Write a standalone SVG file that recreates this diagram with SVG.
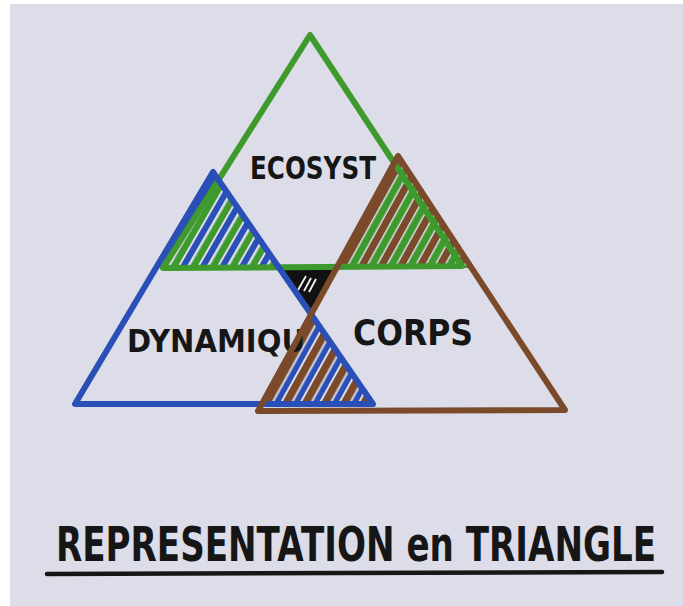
<svg xmlns="http://www.w3.org/2000/svg" width="683" height="606" viewBox="0 0 683 606">
<style>
  .edge { fill: none; stroke-width: 6; stroke-linejoin: round; stroke-linecap: round; }
  .green { stroke: #3e9a2c; }
  .blue { stroke: #2a4fb6; }
  .brown { stroke: #7a4a2b; }
  .lbl { font-family: "DejaVu Sans", "Liberation Sans", sans-serif; font-weight: bold; fill: #161616; }
</style>
<defs>
  <pattern id="hGreenBlue" patternUnits="userSpaceOnUse" width="17" height="17" patternTransform="rotate(30)">
    <rect x="0" y="0" width="6" height="17" fill="#2a4fb6"/>
    <rect x="8.5" y="0" width="6.5" height="17" fill="#3e9a2c"/>
  </pattern>
  <pattern id="hGreenBrown" patternUnits="userSpaceOnUse" width="17" height="17" patternTransform="rotate(29)">
    <rect x="0" y="0" width="7" height="17" fill="#7a4a2b"/>
    <rect x="8.5" y="0" width="7" height="17" fill="#3e9a2c"/>
  </pattern>
  <pattern id="hBlueBrown" patternUnits="userSpaceOnUse" width="17" height="17" patternTransform="rotate(29)">
    <rect x="0" y="0" width="7.5" height="17" fill="#7a4a2b"/>
    <rect x="9.5" y="0" width="5.5" height="17" fill="#2a4fb6"/>
  </pattern>
</defs>

<rect x="0" y="0" width="683" height="606" fill="#ffffff"/>
<rect x="10" y="4" width="673" height="602" fill="#dcdde9"/>

<!-- overlap hatchings -->
<g id="overlaps">
  <polygon id="ecosyst-dynamique" points="213,172 156,268 279,268" fill="url(#hGreenBlue)"/>
  <polygon id="ecosyst-corps" points="398,156 336,268 471,268" fill="url(#hGreenBrown)"/>
  <polygon id="dynamique-corps" points="311,313 373,404 261,404" fill="url(#hBlueBrown)"/>
  <g id="centre">
    <polygon points="280,268 336,268 311,313" fill="#111111"/>
    <line x1="298" y1="290" x2="306" y2="276" stroke="#f2f2f2" stroke-width="1.8"/>
    <line x1="304" y1="291" x2="311" y2="278" stroke="#f2f2f2" stroke-width="1.8"/>
    <line x1="309" y1="292" x2="316" y2="279" stroke="#f2f2f2" stroke-width="1.8"/>
  </g>
</g>

<g id="ecosyst">
  <polygon class="edge green" points="310,35 163,268 462,266"/>
  <text class="lbl" x="250" y="179" font-size="32" textLength="126" lengthAdjust="spacingAndGlyphs">ECOSYST</text>
</g>

<g id="dynamique">
  <polygon class="edge blue" points="213,172 75,404 373,404"/>
  <text class="lbl" x="127" y="352" font-size="32" textLength="178" lengthAdjust="spacingAndGlyphs">DYNAMIQU</text>
</g>

<g id="corps">
  <polygon class="edge brown" points="398,156 258,411 565,410"/>
  <text class="lbl" x="353" y="345" font-size="36" textLength="120" lengthAdjust="spacingAndGlyphs">CORPS</text>
</g>

<g id="title">
  <text class="lbl" transform="translate(56,561) scale(1,1.4)" x="0" y="0" font-size="34" textLength="600" lengthAdjust="spacingAndGlyphs">REPRESENTATION en TRIANGLE</text>
  <line x1="47" y1="574" x2="662" y2="572" stroke="#161616" stroke-width="4.5" stroke-linecap="round"/>
</g>
</svg>
